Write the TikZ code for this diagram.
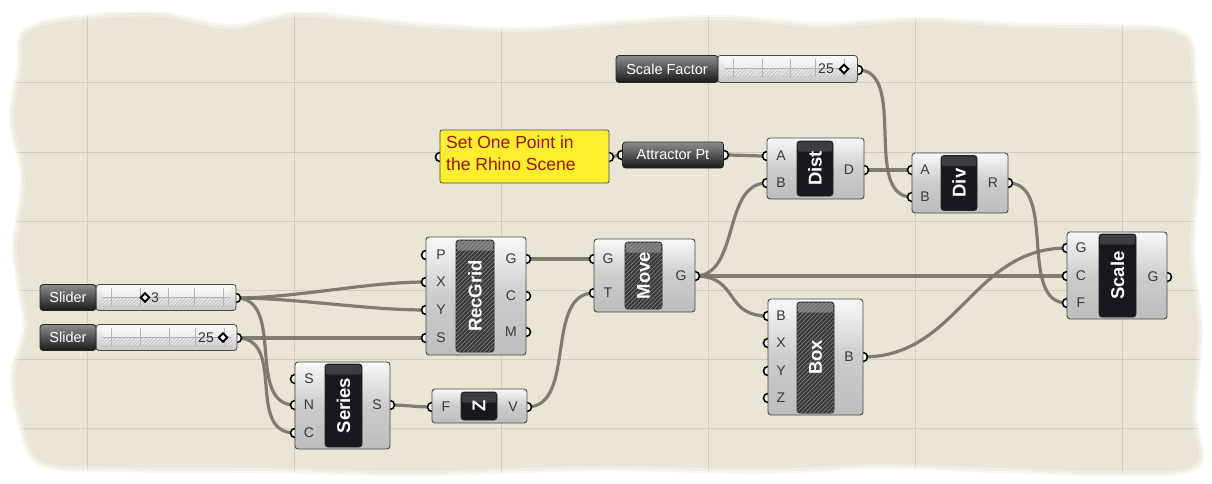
\documentclass[tikz,border=0pt]{standalone}
\usepackage{fontspec}
\setmainfont{Liberation Sans}
\usetikzlibrary{calc,patterns.meta}
\definecolor{canvas}{RGB}{234,230,214}
\definecolor{gridc}{RGB}{208,204,190}
\definecolor{wirec}{RGB}{120,117,104}
\definecolor{compborder}{RGB}{72,72,72}
\definecolor{labdark}{RGB}{24,24,30}
\definecolor{paneltext}{RGB}{150,22,10}
\definecolor{panelfill}{RGB}{255,238,45}
\tikzset{
 wire/.style={draw=wirec, line width=3.2pt, opacity=0.92},
 compbody/.style={rectangle, rounded corners=3pt, draw=compborder, line width=0.9pt, top color=gray!5, bottom color=gray!52, middle color=gray!40, inner sep=0pt},
 port/.style={circle, draw=black, line width=1.6pt, fill=white, minimum size=9pt, inner sep=0pt},
 plabel/.style={font=\fontsize{14}{14}\selectfont, text=black!78, inner sep=0pt},
 lbox/.style={rectangle, rounded corners=3pt, draw=black!85, line width=0.8pt, fill=labdark, inner sep=0pt},
 hbox/.style={rectangle, rounded corners=3pt, draw=black!85, line width=0.8pt, fill=black!78, inner sep=0pt,
   postaction={pattern={Lines[angle=45,distance=3pt,line width=0.7pt]}, pattern color=black!50}},
 ltext/.style={rotate=90, text=white, font=\fontsize{18.5}{18.5}\selectfont\bfseries, inner sep=0pt},
 slab/.style={rectangle, rounded corners=3pt, draw=black!85, line width=0.8pt, top color=black!45, bottom color=black!90, text=white, font=\fontsize{14.5}{14.5}\selectfont, inner sep=0pt},
 sbody/.style={rectangle, rounded corners=3pt, draw=compborder, line width=0.8pt, top color=gray!4, bottom color=gray!45, inner sep=0pt},
 vtext/.style={font=\fontsize{14}{14}\selectfont, text=black!80, inner sep=0pt},
 panelbox/.style={rectangle, rounded corners=2pt, draw=black!70, line width=0.8pt, fill=panelfill, inner sep=0pt},
 ptext/.style={font=\fontsize{17.5}{17.5}\selectfont, text=paneltext, inner sep=0pt},
 gridline/.style={draw=gridc, line width=1pt},
}
\newcommand\ghbody[5]{\node[compbody, minimum width=#4pt, minimum height=#5pt] (#1) at (#2,#3) {};}
\newcommand\ghlab[6]{%
 \node[lbox, minimum width=#4pt, minimum height=#5pt] (#1) at (#2,#3) {};
 \fill[white, opacity=0.16, rounded corners=2pt] ($(#1.north west)+(1.3pt,-1.3pt)$) rectangle ($(#1.north east)+(-1.3pt,-11pt)$);
 \node[ltext] (#1-t) at (#1) {#6};}
\newcommand\ghlabh[6]{%
 \node[hbox, minimum width=#4pt, minimum height=#5pt] (#1) at (#2,#3) {};
 \fill[gray!75, opacity=0.6, rounded corners=2pt] ($(#1.north west)+(1.3pt,-1.3pt)$) rectangle ($(#1.north east)+(-1.3pt,-11pt)$);
 \node[ltext] (#1-t) at (#1) {#6};}
\newcommand\gport[1]{\node[port] (#1-p) at (#1) {};}
\newcommand\glet[4]{\node[plabel] (#1) at (#2,#3) {#4};}
\newcommand\gdia[2]{\draw[line width=2pt, fill=white] (#1,#2-4.3) -- (#1+4.3,#2) -- (#1,#2+4.3) -- (#1-4.3,#2) -- cycle;}
\newcommand\gtrack[3]{% x1 x2 top
 \fill[white, opacity=0.35] (#1,#3+3) rectangle (#2,#3+20);
 \path[pattern={Lines[angle=45,distance=2.6pt,line width=0.5pt]}, pattern color=gray!60] (#1,#3+12.5) rectangle (#2,#3+21);
 \draw[gray!60, line width=0.5pt] (#1,#3+12.5) -- (#2,#3+12.5);
 \foreach \k in {0.07,0.3,0.52,0.72,0.95} \draw[gray!60, line width=0.5pt] ({#1+\k*(#2-#1)},#3+3) -- ({#1+\k*(#2-#1)},#3+21);}
\def\canvaspath{plot[smooth cycle, tension=0.6] coordinates {(22,30) (70,16) (160,12) (230,24) (300,12) (420,22) (520,27) (620,20) (720,15) (820,22) (920,17) (1010,22) (1110,24) (1185,32) (1197,80) (1201,160) (1195,250) (1203,330) (1197,410) (1199,468) (1120,476) (1000,473) (880,469) (760,474) (600,471) (420,476) (260,473) (120,472) (40,466) (18,425) (10,375) (22,325) (12,250) (20,180) (9,120) (17,65)}}
\begin{document}
\begin{tikzpicture}[x=1pt,y=-1pt]
\useasboundingbox (0,0) rectangle (1212,484);
\fill[white] (0,0) rectangle (1212,484);
\fill[canvas] \canvaspath;
\begin{scope}
 \clip \canvaspath;
 \foreach \gx in {87,294,501,708,915,1122} \draw[gridline] (\gx,0) -- (\gx,484);
 \foreach \gy in {14,83,152,221,290,359,428} \draw[gridline] (0,\gy) -- (1212,\gy);
\end{scope}
\draw[white, line width=10pt, opacity=0.3] \canvaspath;
\draw[white, line width=4pt, opacity=0.5] \canvaspath;

% port coordinates
\coordinate (sl1) at (236,298);
\coordinate (sl2) at (237,338);
\coordinate (sf) at (858,70);
\coordinate (pnl) at (440,157);
\coordinate (pnr) at (609,157);
\coordinate (ati) at (622,155);
\coordinate (ato) at (724,155);
\coordinate (rgp) at (426,255);
\coordinate (rgx) at (426,282);
\coordinate (rgy) at (426,310);
\coordinate (rgs) at (426,338);
\coordinate (rgg) at (526,259);
\coordinate (rgc) at (526,296);
\coordinate (rgm) at (526,332);
\coordinate (ses) at (295,379);
\coordinate (sen) at (295,405);
\coordinate (sec) at (295,433);
\coordinate (seo) at (390,405);
\coordinate (zf) at (432,407);
\coordinate (zv) at (527,407);
\coordinate (mvg) at (594,259);
\coordinate (mvt) at (594,293);
\coordinate (mvo) at (695,276);
\coordinate (bxb) at (768,316);
\coordinate (bxx) at (768,343);
\coordinate (bxy) at (768,371);
\coordinate (bxz) at (768,398);
\coordinate (bxo) at (863,357);
\coordinate (scg) at (1067,248);
\coordinate (scc) at (1067,276);
\coordinate (scf) at (1067,303);
\coordinate (sco) at (1167,277);
\coordinate (dsa) at (767,156);
\coordinate (dsb) at (767,183);
\coordinate (dso) at (864,170);
\coordinate (dva) at (912,170);
\coordinate (dvb) at (912,197);
\coordinate (dvo) at (1008,183);

% wires
\draw[wire] (sl1) .. controls +(60,0) and +(-60,0) .. (rgx);
\draw[wire] (sl1) .. controls +(60,0) and +(-60,0) .. (rgy);
\draw[wire] (sl1) .. controls +(50,0) and +(-50,0) .. (sen);
\draw[wire] (sl2) -- (rgs);
\draw[wire] (sl2) .. controls +(50,0) and +(-50,0) .. (sec);
\draw[wire] (seo) .. controls +(15,0) and +(-15,0) .. (zf);
\draw[wire] (zv) .. controls +(50,0) and +(-50,0) .. (mvt);
\draw[wire] (rgg) -- (mvg);
\draw[wire] (mvo) .. controls +(45,0) and +(-45,0) .. (dsb);
\draw[wire] (mvo) .. controls +(45,0) and +(-45,0) .. (bxb);
\draw[wire] (mvo) -- (scc);
\draw[wire] (bxo) .. controls +(95,0) and +(-95,0) .. (scg);
\draw[wire] (ato) .. controls +(15,0) and +(-15,0) .. (dsa);
\draw[wire] (dso) -- (dva);
\draw[wire] (sf) .. controls +(50,0) and +(-50,0) .. (dvb);
\draw[wire] (dvo) .. controls +(50,0) and +(-50,0) .. (scf);
\draw[wire] (pnr) -- (ati);

% ports
\foreach \p in {sl1,sl2,sf,pnl,pnr,ati,ato,rgp,rgx,rgy,rgs,rgg,rgc,rgm,ses,sen,sec,seo,zf,zv,mvg,mvt,mvo,bxb,bxx,bxy,bxz,bxo,scg,scc,scf,sco,dsa,dsb,dso,dva,dvb,dvo} {\gport{\p}}

% sliders
\node[sbody, minimum width=140pt, minimum height=26pt] (s1b) at (166,297.5) {};
\gtrack{102}{230}{285}
\node[slab, minimum width=56pt, minimum height=26pt] (s1l) at (68,297.5) {Slider};
\gdia{145}{297.5}
\node[vtext, anchor=base west] (s1v) at (151,302.5) {3};

\node[sbody, minimum width=141pt, minimum height=26pt] (s2b) at (166.5,337.5) {};
\gtrack{102}{231}{325}
\node[slab, minimum width=56pt, minimum height=26pt] (s2l) at (68,337.5) {Slider};
\node[vtext, anchor=base east] (s2v) at (214,342.5) {25};
\gdia{223}{337.5}

\node[sbody, minimum width=140pt, minimum height=27pt] (sfb) at (787.5,69) {};
\gtrack{724}{851}{56}
\node[slab, minimum width=102pt, minimum height=27pt] (sfl) at (667,69) {Scale Factor};
\node[vtext, anchor=base east] (sfv) at (834,74) {25};
\gdia{844}{69}

% panel
\node[panelbox, minimum width=169pt, minimum height=53pt] (panel) at (524.5,156.5) {};
\node[ptext, anchor=base west] (pt1) at (446,148) {Set One Point in};
\node[ptext, anchor=base west] (pt2) at (446,170) {the Rhino Scene};

% attractor point param
\node[slab, minimum width=101pt, minimum height=26pt] (attr) at (673,155) {Attractor Pt};

% RecGrid
\ghbody{rg}{476}{296}{100}{118}
\ghlabh{rgl}{475}{296}{38}{112}{RecGrid}
\glet{rgP}{441}{255}{P}\glet{rgX}{441}{282}{X}\glet{rgY}{441}{310}{Y}\glet{rgS}{441}{338}{S}
\glet{rgG}{511}{259}{G}\glet{rgC}{511}{296}{C}\glet{rgM}{511}{332}{M}

% Series
\ghbody{se}{342.5}{405.5}{95}{87}
\ghlab{sel}{343.5}{405.5}{37}{83}{Series}
\glet{seS}{309}{379}{S}\glet{seN}{309}{405}{N}\glet{seC}{309}{433}{C}
\glet{seO}{377}{405}{S}

% Z
\ghbody{zc}{479.5}{406}{95}{34}
\ghlab{zl}{479}{406}{36}{28}{Z}
\glet{zF}{446}{407}{F}\glet{zV}{513}{407}{V}

% Move
\ghbody{mv}{644.5}{275.5}{101}{73}
\ghlabh{mvl}{643.5}{275.5}{37}{67}{Move}
\glet{mvG}{608}{259}{G}\glet{mvT}{608}{293}{T}\glet{mvO}{681}{276}{G}

% Box
\ghbody{bx}{815.5}{357}{95}{116}
\ghlabh{bxl}{815.5}{357.5}{37}{111}{Box}
\glet{bxB}{781}{316}{B}\glet{bxX}{781}{343}{X}\glet{bxY}{781}{371}{Y}\glet{bxZ}{781}{398}{Z}
\glet{bxO}{849}{357}{B}

% Scale
\ghbody{sc}{1117}{275.5}{100}{87}
\ghlab{scl}{1117.5}{275.5}{37}{83}{Scale}
\glet{scG}{1081}{248}{G}\glet{scC}{1081}{276}{C}\glet{scF}{1081}{303}{F}
\glet{scO}{1153}{277}{G}

% Dist
\ghbody{ds}{815.5}{168.5}{97}{61}
\ghlab{dsl}{815}{168.5}{36}{55}{Dist}
\glet{dsA}{781}{156}{A}\glet{dsB}{781}{183}{B}\glet{dsD}{849}{170}{D}

% Div
\ghbody{dv}{960}{183}{96}{60}
\ghlab{dvl}{959}{183}{36}{55}{Div}
\glet{dvA}{925}{170}{A}\glet{dvB}{925}{197}{B}\glet{dvR}{993}{183}{R}
\end{tikzpicture}
\end{document}
